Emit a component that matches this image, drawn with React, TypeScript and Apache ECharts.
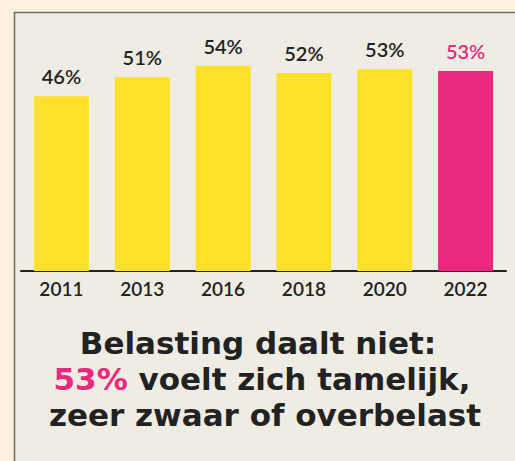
import React, { useEffect, useRef } from "react";
import * as echarts from "echarts";

const categories = ["2011", "2013", "2016", "2018", "2020", "2022"];
const values = [46, 51, 54, 52.1, 53.1, 52.6];
const valueLabels = ["46%", "51%", "54%", "52%", "53%", "53%"];
const highlightIndex = 5;
const titleLine1 = "Belasting daalt niet:";
const titleHighlight = "53%";
const titleLine2Rest = " voelt zich tamelijk,";
const titleLine3 = "zeer zwaar of overbelast";

const YELLOW = "#fee12b";
const PINK = "#e9287f";
const DARK = "#222222";
const FONT = "Lato";
const TITLE_FONT = "bold 31px 'DejaVu Sans'";

export default function App() {
  const ref = useRef<HTMLDivElement>(null);
  useEffect(() => {
    const chart = echarts.init(ref.current!, null, { renderer: "svg" });
    chart.setOption({
      animation: false,
      backgroundColor: "#fdf0dc",
      graphic: [
        {
          type: "rect",
          z: -10,
          shape: { x: 14.5, y: 12.5, width: 520, height: 470 },
          style: { fill: "#efede3", stroke: "#6b6b6b", lineWidth: 1.5 },
        },
        {
          type: "text",
          x: 258,
          y: 343,
          style: {
            text: titleLine1,
            font: TITLE_FONT,
            fill: DARK,
            align: "center",
            verticalAlign: "middle",
            lineHeight: 31,
          },
        },
        {
          type: "text",
          x: 262,
          y: 379,
          style: {
            text: `{p|${titleHighlight}}{d|${titleLine2Rest}}`,
            align: "center",
            verticalAlign: "middle",
            rich: {
              p: { font: TITLE_FONT, fill: PINK, lineHeight: 31 },
              d: { font: TITLE_FONT, fill: DARK, lineHeight: 31 },
            },
          },
        },
        {
          type: "text",
          x: 265,
          y: 415,
          style: {
            text: titleLine3,
            font: TITLE_FONT,
            fill: DARK,
            align: "center",
            verticalAlign: "middle",
            lineHeight: 31,
          },
        },
      ],
      grid: { left: 21, right: 9, top: 43, bottom: 190 },
      xAxis: {
        type: "category",
        data: categories,
        axisLine: { show: true, lineStyle: { color: DARK, width: 2 } },
        axisTick: { show: false },
        axisLabel: {
          color: DARK,
          fontFamily: FONT,
          fontSize: 19,
          fontWeight: 600,
          margin: 8,
        },
      },
      yAxis: {
        type: "value",
        min: 0,
        max: 60,
        show: false,
        splitLine: { show: false },
      },
      series: [
        {
          type: "bar",
          barWidth: 55,
          data: values.map((v, i) => ({
            value: v,
            itemStyle: { color: i === highlightIndex ? PINK : YELLOW },
            label: {
              show: true,
              position: "top",
              distance: 10,
              formatter: valueLabels[i],
              color: i === highlightIndex ? PINK : DARK,
              fontFamily: FONT,
              fontSize: 20,
              fontWeight: 600,
            },
          })),
        },
      ],
    });
    return () => chart.dispose();
  }, []);
  return (
    <div
      ref={ref}
      style={{ position: "fixed", left: 0, top: 0, width: 515, height: 461 }}
    />
  );
}
